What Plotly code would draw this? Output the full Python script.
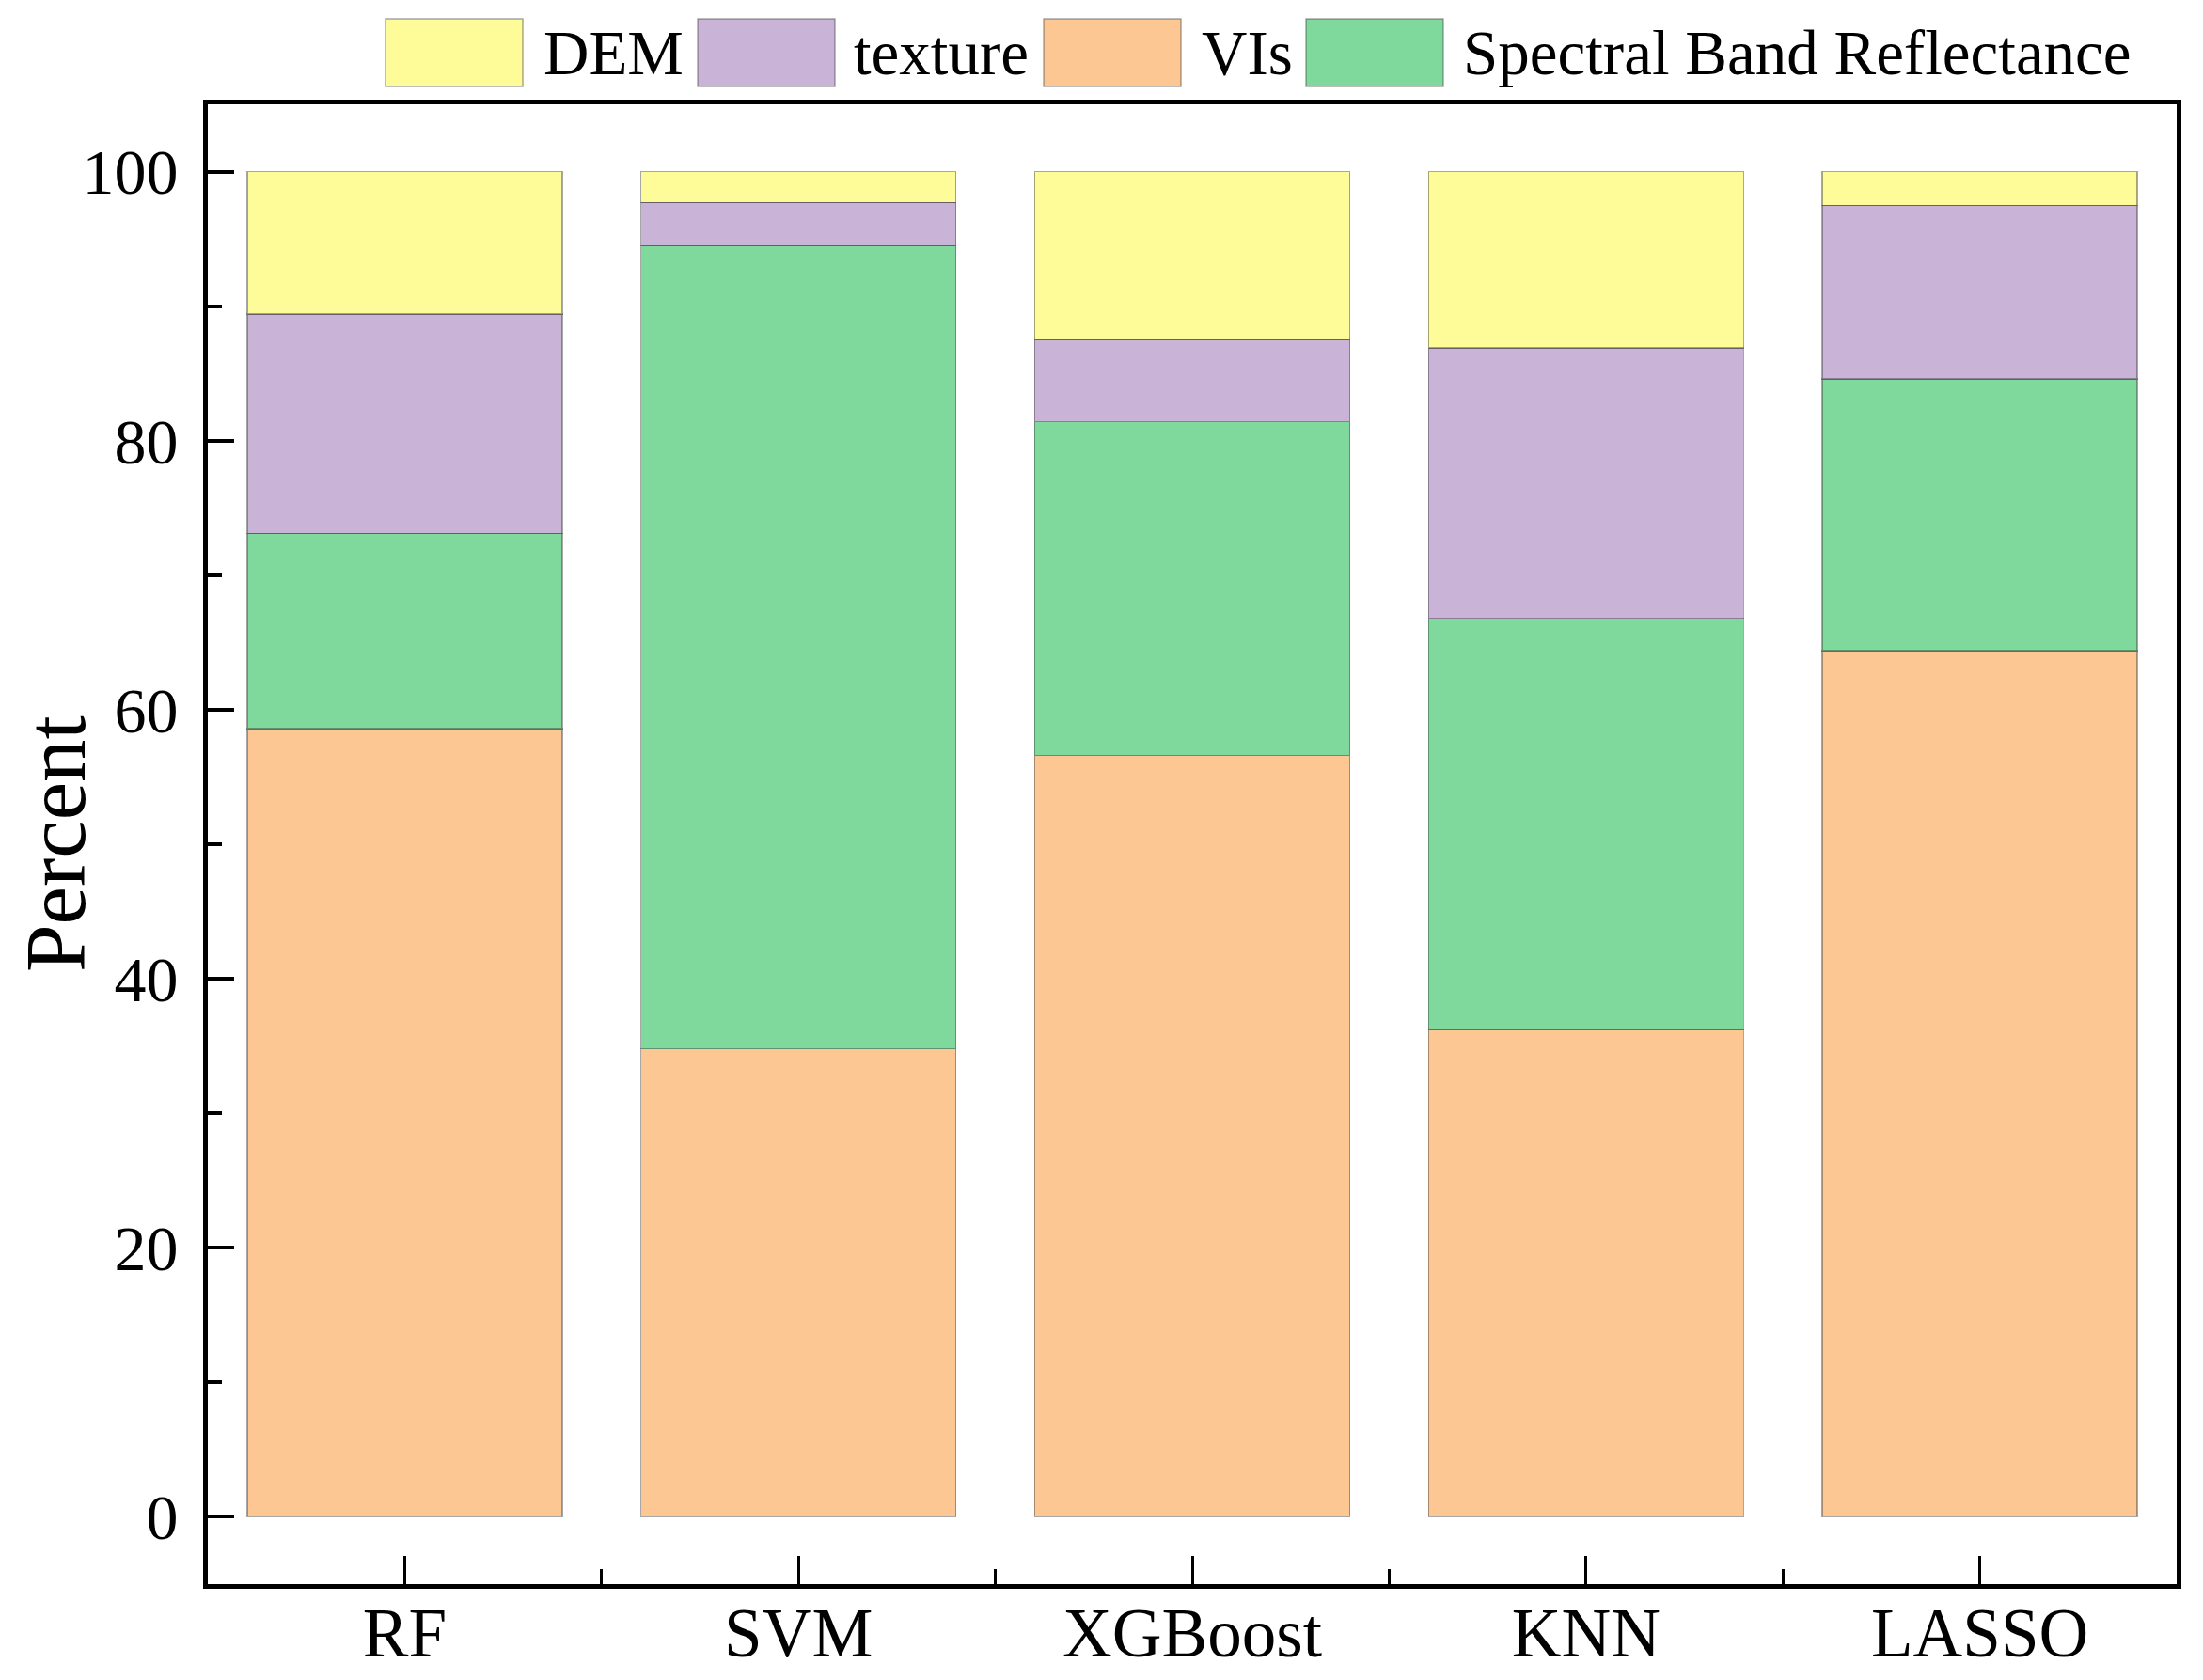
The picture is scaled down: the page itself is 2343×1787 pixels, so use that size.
import plotly.graph_objects as go

# data (percent of feature importance)
models = ["RF", "SVM", "XGBoost", "KNN", "LASSO"]
vis = [58.6, 34.8, 56.6, 36.2, 64.4]
spectral = [14.5, 59.7, 24.8, 30.6, 20.2]
texture = [16.3, 3.2, 6.1, 20.1, 12.9]
dem = [10.6, 2.3, 12.5, 13.1, 2.5]

series_names = ["VIs", "Spectral Band Reflectance", "texture", "DEM"]
series_values = [vis, spectral, texture, dem]
colors = {
    "DEM": "#FEFC99",
    "texture": "#C9B3D7",
    "VIs": "#FDC794",
    "Spectral Band Reflectance": "#7FD99C",
}
legend_order = ["DEM", "texture", "VIs", "Spectral Band Reflectance"]

FONT = "Liberation Serif"
W, H = 2343, 1787
ML, MR, MT, MB = 213, 36, 103, 110
pw, ph = W - ML - MR, H - MT - MB

x_pos = list(range(len(models)))

fig = go.Figure()
for name, vals in zip(series_names, series_values):
    fig.add_trace(go.Bar(
        x=x_pos, y=vals, name=name, width=0.8,
        marker=dict(color=colors[name],
                    line=dict(color="rgba(60,60,60,0.45)", width=1.5)),
        showlegend=False,
    ))

# hand-made legend with large swatches (figure pixel positions)
legend_px = [(402, 568), (734, 898), (1102, 1268), (1381, 1546)]
sw_w, sw_top, sw_bot = 146, 12, 84


def px_x(p):
    return (p - ML) / pw


def px_y(p):
    return (H - MB - p) / ph


for name, (sx, tx) in zip(legend_order, legend_px):
    fig.add_shape(type="rect", xref="paper", yref="paper",
                  x0=px_x(sx), x1=px_x(sx + sw_w),
                  y0=px_y(sw_bot), y1=px_y(sw_top),
                  fillcolor=colors[name],
                  line=dict(color="rgba(60,60,60,0.45)", width=1.5))
    fig.add_annotation(xref="paper", yref="paper", x=px_x(tx),
                       y=px_y((sw_top + sw_bot) / 2), text=name,
                       showarrow=False, xanchor="left", yanchor="middle",
                       font=dict(family=FONT, size=67, color="black"))

fig.add_annotation(xref="paper", yref="paper", x=px_x(51), y=0.5,
                   text="Percent", textangle=-90, showarrow=False,
                   xanchor="center", yanchor="middle",
                   font=dict(family=FONT, size=91, color="black"))

fig.update_layout(
    width=W, height=H,
    margin=dict(l=ML, r=MR, t=MT, b=MB),
    barmode="stack",
    plot_bgcolor="white",
    paper_bgcolor="white",
    font=dict(family=FONT, color="black"),
)

fig.update_xaxes(
    range=[-0.5, len(models) - 0.5],
    tickvals=x_pos, ticktext=models,
    ticks="inside", ticklen=30, tickwidth=3, tickcolor="black",
    minor=dict(tick0=0.5, dtick=1, ticks="inside", ticklen=16,
               tickwidth=3, tickcolor="black"),
    showline=True, linewidth=5, linecolor="black", mirror=True,
    showgrid=False, zeroline=False, automargin=False,
    tickfont=dict(family=FONT, size=73, color="black"),
    ticklabelstandoff=-16,
)
fig.update_yaxes(
    range=[-5, 105],
    tickvals=[0, 20, 40, 60, 80, 100],
    ticks="inside", ticklen=28, tickwidth=4, tickcolor="black",
    minor=dict(dtick=10, tick0=0, ticks="inside", ticklen=15,
               tickwidth=4, tickcolor="black"),
    showline=True, linewidth=5, linecolor="black", mirror=True,
    showgrid=False, zeroline=False, automargin=False,
    tickfont=dict(family=FONT, size=68, color="black"),
    ticklabelstandoff=13,
)

fig.write_html("out.html")
